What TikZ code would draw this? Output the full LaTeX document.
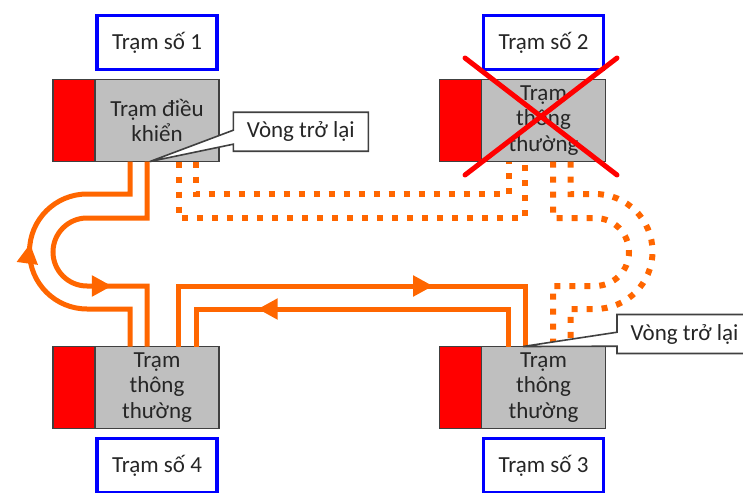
\documentclass[tikz,border=0pt]{standalone}
\usepackage{fontspec}
\setmainfont{Carlito}
\usetikzlibrary{arrows.meta,positioning,shapes.callouts,decorations.markings}
\definecolor{ringorange}{RGB}{255,102,0}
\tikzset{
    stbox/.style={draw=black!75,fill=black!25,line width=0.8pt,minimum width=62pt,minimum height=41pt,
        inner sep=0pt,outer sep=0pt,align=center,text=black!85,font=\fontsize{11.5}{12.8}\selectfont},
    redpart/.style={draw=black!75,fill=red,line width=0.8pt,minimum width=21pt,minimum height=41pt,
        inner sep=0pt,outer sep=0pt},
    stlabel/.style={draw=blue,fill=white,line width=1.8pt,minimum width=60pt,minimum height=27pt,
        inner sep=0pt,outer sep=0pt,text=black!85,font=\fontsize{11.5}{12.8}\selectfont},
    loopnote/.style={rectangle callout,draw=black!75,fill=white,line width=0.8pt,minimum width=67.5pt,
        minimum height=19.5pt,inner sep=0pt,callout pointer width=7pt,text=black!85,
        font=\fontsize{11.5}{12.8}\selectfont},
    ring/.style={color=ringorange,line width=2.5pt},
    ringdot/.style={color=ringorange,line width=3pt,dash pattern=on 3pt off 4.5pt},
    arrowat/.style={postaction={decorate},decoration={markings,
        mark=at position #1 with {\arrow{Triangle[length=10pt,width=10pt]}}}},
    cross/.style={red,line width=2.5pt,line cap=round},
}
\begin{document}
\begin{tikzpicture}[x=0.5pt,y=-0.5pt]
        \useasboundingbox (0,0) rectangle (743,492);
        %站点;
        \node [stbox] (g1) at (157,120.5) {Trạm điều\\khiển};
        \node [redpart,left=0pt of g1] (r1) {};
        \node [stlabel,above=5pt of g1] (lb1) {Trạm số 1};
        \node [stbox] (g2) at (543.5,120.5) {Trạm\\thông\\thường};
        \node [redpart,left=0pt of g2] (r2) {};
        \node [stlabel,above=5pt of g2] (lb2) {Trạm số 2};
        \node [stbox] (g3) at (543.5,387.5) {Trạm\\thông\\thường};
        \node [redpart,left=0pt of g3] (r3) {};
        \node [stlabel,below=5pt of g3] (lb3) {Trạm số 3};
        \node [stbox] (g4) at (157,387.5) {Trạm\\thông\\thường};
        \node [redpart,left=0pt of g4] (r4) {};
        \node [stlabel,below=5pt of g4] (lb4) {Trạm số 4};
        %实线环路;
        \draw [ring][arrowat=0.531] ([xshift=-13.5pt]g4.north) |- (87,309)
            arc[start angle=270,end angle=90,radius=28.75pt] -| ([xshift=-13.5pt]g1.south);
        \draw [ring][arrowat=0.722] ([xshift=-5pt]g1.south) |- (87,218)
            arc[start angle=90,end angle=270,radius=17pt] -| ([xshift=-5pt]g4.north);
        \draw [ring][arrowat=0.674] ([xshift=10.75pt]g4.north) -- ++(0,-60.5) -| ([xshift=-9.25pt]g3.north);
        \draw [ring][arrowat=0.744] ([xshift=-17.5pt]g3.north) -- ++(0,-37.5) -| ([xshift=19.5pt]g4.north);
        %虚线环路;
        \draw [ringdot] ([xshift=19.5pt]g1.south) -- ++(0,32.5) -| ([xshift=-17.5pt]g2.south);
        \draw [ringdot] ([xshift=10.75pt]g1.south) -- ++(0,56.5) -| ([xshift=-9.25pt]g2.south);
        \draw [ringdot] ([xshift=13.5pt]g2.south) |- (595,194)
            arc[start angle=90,end angle=-90,radius=28.75pt] -| ([xshift=13.5pt]g3.north);
        \draw [ringdot] ([xshift=4.75pt]g2.south) |- (595,218)
            arc[start angle=90,end angle=-90,radius=17pt] -| ([xshift=4.75pt]g3.north);
        %回环标注;
        \node [loopnote,callout absolute pointer={([xshift=-3.5pt]g1.south)}] (cl1) at (300.8,131.7) {Vòng trở lại};
        \node [loopnote,callout absolute pointer={([xshift=-10.25pt]g3.north)}] (cl2) at (684.5,334) {Vòng trở lại};
        %故障;
        \draw [cross] (465,58) -- (617,175) (617,58) -- (465,175);
\end{tikzpicture}
\end{document}
